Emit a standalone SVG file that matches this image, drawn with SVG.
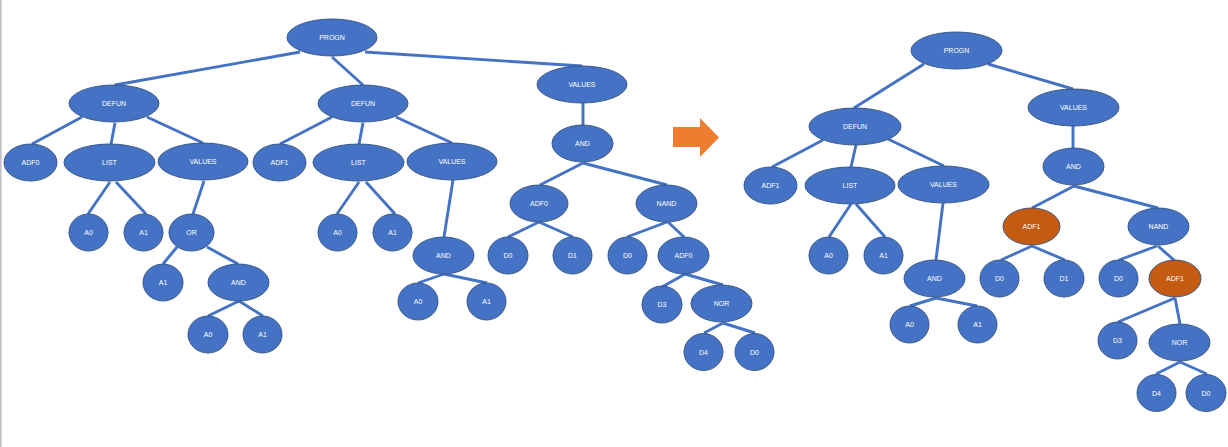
<svg xmlns="http://www.w3.org/2000/svg" width="1228" height="447" viewBox="0 0 1228 447">
<style>
.n{fill:#4472C4;stroke:#2F4F7F;stroke-width:0.9}
.o{fill:#C55A11;stroke:#2F4F7F;stroke-width:0.9}
.t{font-family:"Liberation Sans",Arial,sans-serif;font-size:7px;fill:#FFFFFF;text-anchor:middle;dominant-baseline:central}
#edges line{stroke:#4472C4;stroke-width:2.9}
</style>
<rect x="0" y="0" width="1228" height="447" fill="#FFFFFF"/>
<line x1="0.8" y1="0" x2="0.8" y2="447" stroke="#C0C0C0" stroke-width="1.6"/>
<g id="edges">
<line x1="300" y1="52" x2="115" y2="85"/>
<line x1="332" y1="57" x2="363" y2="85"/>
<line x1="365" y1="52" x2="582" y2="66"/>
<line x1="82" y1="117" x2="32" y2="144"/>
<line x1="115" y1="123" x2="111" y2="144"/>
<line x1="147" y1="117" x2="203" y2="143"/>
<line x1="110" y1="182" x2="88" y2="214"/>
<line x1="116" y1="182" x2="146" y2="214"/>
<line x1="204" y1="181" x2="193" y2="214"/>
<line x1="177" y1="247" x2="163" y2="264"/>
<line x1="207" y1="247" x2="238" y2="264"/>
<line x1="239" y1="301" x2="208" y2="316"/>
<line x1="239" y1="301" x2="263" y2="316"/>
<line x1="332" y1="117" x2="280" y2="144"/>
<line x1="363" y1="123" x2="359" y2="144"/>
<line x1="396" y1="117" x2="452" y2="143"/>
<line x1="359" y1="182" x2="337" y2="214"/>
<line x1="366" y1="182" x2="395" y2="214"/>
<line x1="453" y1="180" x2="444" y2="237"/>
<line x1="444" y1="274" x2="418" y2="283"/>
<line x1="444" y1="274" x2="487" y2="283"/>
<line x1="583" y1="103" x2="583" y2="125"/>
<line x1="583" y1="163" x2="540" y2="185"/>
<line x1="583" y1="163" x2="667" y2="185"/>
<line x1="539" y1="222" x2="508" y2="237"/>
<line x1="539" y1="222" x2="573" y2="237"/>
<line x1="667" y1="222" x2="627" y2="237"/>
<line x1="668" y1="222" x2="684" y2="237"/>
<line x1="685" y1="274" x2="662" y2="287"/>
<line x1="685" y1="274" x2="723" y2="285"/>
<line x1="723" y1="323" x2="704" y2="333"/>
<line x1="723" y1="323" x2="755" y2="333"/>
<line x1="924" y1="64" x2="854" y2="108"/>
<line x1="988" y1="64" x2="1073" y2="89"/>
<line x1="823" y1="140" x2="772" y2="167"/>
<line x1="856" y1="145" x2="851" y2="167"/>
<line x1="888" y1="139" x2="944" y2="166"/>
<line x1="851" y1="204" x2="829" y2="237"/>
<line x1="856" y1="204" x2="885" y2="237"/>
<line x1="943" y1="203" x2="936" y2="260"/>
<line x1="936" y1="298" x2="910" y2="306"/>
<line x1="936" y1="298" x2="977" y2="306"/>
<line x1="1073" y1="126" x2="1073" y2="148"/>
<line x1="1074" y1="186" x2="1032" y2="208"/>
<line x1="1074" y1="186" x2="1158" y2="208"/>
<line x1="1032" y1="246" x2="1001" y2="260"/>
<line x1="1032" y1="246" x2="1065" y2="260"/>
<line x1="1157" y1="246" x2="1119" y2="260"/>
<line x1="1158" y1="246" x2="1175" y2="261"/>
<line x1="1175" y1="298" x2="1118" y2="322"/>
<line x1="1175" y1="298" x2="1180" y2="324"/>
<line x1="1180" y1="362" x2="1156" y2="374"/>
<line x1="1180" y1="362" x2="1207" y2="374"/>
</g>
<g id="arrow">
<polygon points="673,127 700,127 700,118 719,137.5 700,157 700,147 673,147" fill="#ED7D31"/>
</g>
<g id="L_progn"><ellipse class="n" cx="332" cy="37.5" rx="45" ry="18.5"/><text class="t" x="332" y="37.5">PROGN</text></g>
<g id="L_defun1"><ellipse class="n" cx="114" cy="103.5" rx="45" ry="18.5"/><text class="t" x="114" y="103.5">DEFUN</text></g>
<g id="L_adf0"><ellipse class="n" cx="30.5" cy="162.5" rx="26.5" ry="18.5"/><text class="t" x="30.5" y="162.5">ADF0</text></g>
<g id="L_list1"><ellipse class="n" cx="109.5" cy="162.5" rx="45.5" ry="18.5"/><text class="t" x="109.5" y="162.5">LIST</text></g>
<g id="L_values1"><ellipse class="n" cx="203" cy="161.5" rx="45" ry="18.5"/><text class="t" x="203" y="161.5">VALUES</text></g>
<g id="L_a0_1"><ellipse class="n" cx="88.5" cy="232.5" rx="19.5" ry="18.5"/><text class="t" x="88.5" y="232.5">A0</text></g>
<g id="L_a1_1"><ellipse class="n" cx="143.5" cy="232.5" rx="19.5" ry="18.5"/><text class="t" x="143.5" y="232.5">A1</text></g>
<g id="L_or"><ellipse class="n" cx="191.5" cy="232.5" rx="22.5" ry="18.5"/><text class="t" x="191.5" y="232.5">OR</text></g>
<g id="L_a1_2"><ellipse class="n" cx="163" cy="282.5" rx="20" ry="18.5"/><text class="t" x="163" y="282.5">A1</text></g>
<g id="L_and1"><ellipse class="n" cx="238.5" cy="282.5" rx="30.5" ry="18.5"/><text class="t" x="238.5" y="282.5">AND</text></g>
<g id="L_a0_2"><ellipse class="n" cx="208" cy="334.5" rx="20" ry="18.5"/><text class="t" x="208" y="334.5">A0</text></g>
<g id="L_a1_3"><ellipse class="n" cx="262.5" cy="334.5" rx="19.5" ry="18.5"/><text class="t" x="262.5" y="334.5">A1</text></g>
<g id="L_defun2"><ellipse class="n" cx="363" cy="103.5" rx="45" ry="18.5"/><text class="t" x="363" y="103.5">DEFUN</text></g>
<g id="L_adf1"><ellipse class="n" cx="279.5" cy="162.5" rx="26.5" ry="18.5"/><text class="t" x="279.5" y="162.5">ADF1</text></g>
<g id="L_list2"><ellipse class="n" cx="358.5" cy="162.5" rx="45.5" ry="18.5"/><text class="t" x="358.5" y="162.5">LIST</text></g>
<g id="L_values2"><ellipse class="n" cx="452" cy="161.5" rx="45" ry="18.5"/><text class="t" x="452" y="161.5">VALUES</text></g>
<g id="L_a0_3"><ellipse class="n" cx="337.5" cy="232.5" rx="19.5" ry="18.5"/><text class="t" x="337.5" y="232.5">A0</text></g>
<g id="L_a1_4"><ellipse class="n" cx="392.5" cy="232.5" rx="19.5" ry="18.5"/><text class="t" x="392.5" y="232.5">A1</text></g>
<g id="L_and2"><ellipse class="n" cx="443.5" cy="255.5" rx="30.5" ry="18.5"/><text class="t" x="443.5" y="255.5">AND</text></g>
<g id="L_a0_4"><ellipse class="n" cx="418" cy="301.5" rx="20" ry="18.5"/><text class="t" x="418" y="301.5">A0</text></g>
<g id="L_a1_5"><ellipse class="n" cx="486.5" cy="301.5" rx="19.5" ry="18.5"/><text class="t" x="486.5" y="301.5">A1</text></g>
<g id="L_values3"><ellipse class="n" cx="582" cy="84.5" rx="45" ry="18.5"/><text class="t" x="582" y="84.5">VALUES</text></g>
<g id="L_and3"><ellipse class="n" cx="582.5" cy="143.5" rx="30.5" ry="18.5"/><text class="t" x="582.5" y="143.5">AND</text></g>
<g id="L_adf0_2"><ellipse class="n" cx="539" cy="203.5" rx="29" ry="18.5"/><text class="t" x="539" y="203.5">ADF0</text></g>
<g id="L_nand"><ellipse class="n" cx="666.5" cy="203.5" rx="30.5" ry="18.5"/><text class="t" x="666.5" y="203.5">NAND</text></g>
<g id="L_d0_1"><ellipse class="n" cx="508" cy="255.5" rx="20" ry="18.5"/><text class="t" x="508" y="255.5">D0</text></g>
<g id="L_d1"><ellipse class="n" cx="572.5" cy="255.5" rx="19.5" ry="18.5"/><text class="t" x="572.5" y="255.5">D1</text></g>
<g id="L_d0_2"><ellipse class="n" cx="627.5" cy="255.5" rx="19.5" ry="18.5"/><text class="t" x="627.5" y="255.5">D0</text></g>
<g id="L_adf0_3"><ellipse class="n" cx="683.5" cy="255.5" rx="25.5" ry="18.5"/><text class="t" x="683.5" y="255.5">ADF0</text></g>
<g id="L_d3"><ellipse class="n" cx="662" cy="304.5" rx="20" ry="18.5"/><text class="t" x="662" y="304.5">D3</text></g>
<g id="L_nor"><ellipse class="n" cx="721.5" cy="303.5" rx="30.5" ry="18.5"/><text class="t" x="721.5" y="303.5">NOR</text></g>
<g id="L_d4"><ellipse class="n" cx="703.5" cy="352" rx="19.5" ry="18.5"/><text class="t" x="703.5" y="352">D4</text></g>
<g id="L_d0_3"><ellipse class="n" cx="754.5" cy="352" rx="19.5" ry="18.5"/><text class="t" x="754.5" y="352">D0</text></g>
<g id="R_progn"><ellipse class="n" cx="956.5" cy="50.5" rx="45.5" ry="18.5"/><text class="t" x="956.5" y="50.5">PROGN</text></g>
<g id="R_values1"><ellipse class="n" cx="1073.5" cy="107.5" rx="45.5" ry="18.5"/><text class="t" x="1073.5" y="107.5">VALUES</text></g>
<g id="R_defun"><ellipse class="n" cx="855" cy="126.5" rx="46" ry="18.5"/><text class="t" x="855" y="126.5">DEFUN</text></g>
<g id="R_adf1"><ellipse class="n" cx="770.5" cy="185.5" rx="26.5" ry="18.5"/><text class="t" x="770.5" y="185.5">ADF1</text></g>
<g id="R_list"><ellipse class="n" cx="850" cy="185.5" rx="45" ry="18.5"/><text class="t" x="850" y="185.5">LIST</text></g>
<g id="R_values2"><ellipse class="n" cx="943.5" cy="184.5" rx="45.5" ry="18.5"/><text class="t" x="943.5" y="184.5">VALUES</text></g>
<g id="R_a0_1"><ellipse class="n" cx="828.5" cy="255.5" rx="19.5" ry="18.5"/><text class="t" x="828.5" y="255.5">A0</text></g>
<g id="R_a1_1"><ellipse class="n" cx="883.5" cy="255.5" rx="19.5" ry="18.5"/><text class="t" x="883.5" y="255.5">A1</text></g>
<g id="R_and1"><ellipse class="n" cx="934.5" cy="278.5" rx="30.5" ry="18.5"/><text class="t" x="934.5" y="278.5">AND</text></g>
<g id="R_a0_2"><ellipse class="n" cx="909.5" cy="324.5" rx="19.5" ry="18.5"/><text class="t" x="909.5" y="324.5">A0</text></g>
<g id="R_a1_2"><ellipse class="n" cx="977.5" cy="324.5" rx="19.5" ry="18.5"/><text class="t" x="977.5" y="324.5">A1</text></g>
<g id="R_and2"><ellipse class="n" cx="1073.5" cy="166.5" rx="30.5" ry="18.5"/><text class="t" x="1073.5" y="166.5">AND</text></g>
<g id="R_adf1_2"><ellipse class="o" cx="1031.5" cy="226.5" rx="28.5" ry="18.5"/><text class="t" x="1031.5" y="226.5">ADF1</text></g>
<g id="R_nand"><ellipse class="n" cx="1158.5" cy="226.5" rx="30.5" ry="18.5"/><text class="t" x="1158.5" y="226.5">NAND</text></g>
<g id="R_d0_1"><ellipse class="n" cx="999.5" cy="278.5" rx="19.5" ry="18.5"/><text class="t" x="999.5" y="278.5">D0</text></g>
<g id="R_d1"><ellipse class="n" cx="1064" cy="278.5" rx="20" ry="18.5"/><text class="t" x="1064" y="278.5">D1</text></g>
<g id="R_d0_2"><ellipse class="n" cx="1118.5" cy="278.5" rx="19.5" ry="18.5"/><text class="t" x="1118.5" y="278.5">D0</text></g>
<g id="R_adf1_3"><ellipse class="o" cx="1175" cy="278.5" rx="26" ry="18.5"/><text class="t" x="1175" y="278.5">ADF1</text></g>
<g id="R_d3"><ellipse class="n" cx="1117.5" cy="340.5" rx="19.5" ry="18.5"/><text class="t" x="1117.5" y="340.5">D3</text></g>
<g id="R_nor"><ellipse class="n" cx="1179.5" cy="342.5" rx="30.5" ry="18.5"/><text class="t" x="1179.5" y="342.5">NOR</text></g>
<g id="R_d4"><ellipse class="n" cx="1156.5" cy="393" rx="19.5" ry="18.5"/><text class="t" x="1156.5" y="393">D4</text></g>
<g id="R_d0_3"><ellipse class="n" cx="1206" cy="393" rx="20" ry="18.5"/><text class="t" x="1206" y="393">D0</text></g>
</svg>
